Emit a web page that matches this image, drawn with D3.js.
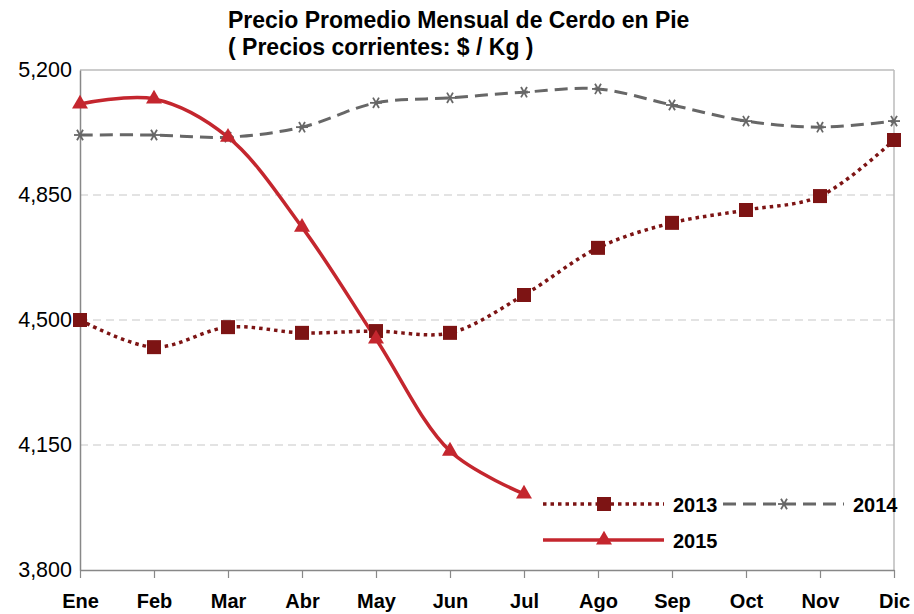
<!DOCTYPE html>
<html>
<head>
<meta charset="utf-8">
<script src="https://cdn.jsdelivr.net/npm/d3@7"></script>
<style>
  body { margin: 0; background: #fff; }
  svg { font-family: "Liberation Sans", Arial, sans-serif; }
</style>
</head>
<body>
<svg id="chart" width="914" height="614"></svg>
<script>
const months = ["Ene", "Feb", "Mar", "Abr", "May", "Jun", "Jul", "Ago", "Sep", "Oct", "Nov", "Dic"];
const yTicks = [3800, 4150, 4500, 4850, 5200];
const v2013 = [4500, 4424, 4480, 4464, 4469, 4464, 4570, 4702, 4772, 4808, 4847, 5004];
const v2014 = [5018, 5018, 5012, 5040, 5108, 5122, 5138, 5147, 5102, 5057, 5040, 5057];
const v2015 = [5105, 5119, 5012, 4760, 4447, 4133, 4013];

const svg = d3.select("#chart");
const plotL = 80, plotR = 894, plotT = 70, plotB = 570;

const x = d3.scalePoint().domain(months).range([plotL, plotR]);
const y = d3.scaleLinear().domain([3800, 5200]).range([plotB, plotT]);

// title
svg.append("text")
    .attr("x", 228).attr("y", 28)
    .attr("font-size", 23).attr("font-weight", "bold").attr("fill", "#000")
    .text("Precio Promedio Mensual de Cerdo en Pie");
svg.append("text")
    .attr("x", 228).attr("y", 55)
    .attr("font-size", 23).attr("font-weight", "bold").attr("fill", "#000")
    .text("( Precios corrientes: $ / Kg )");

// gridlines
svg.append("g").selectAll("line")
  .data(yTicks.filter(d => d > 3800 && d < 5200))
  .join("line")
    .attr("x1", plotL).attr("x2", plotR)
    .attr("y1", d => y(d)).attr("y2", d => y(d))
    .attr("stroke", "#c8c8c8").attr("stroke-width", 1.2)
    .attr("stroke-dasharray", "8,5");

// frame top/right
svg.append("line").attr("x1", plotL).attr("x2", plotR).attr("y1", plotT).attr("y2", plotT)
    .attr("stroke", "#bbb").attr("stroke-width", 1.5);
svg.append("line").attr("x1", plotR).attr("x2", plotR).attr("y1", plotT).attr("y2", plotB)
    .attr("stroke", "#bbb").attr("stroke-width", 1.5);

// y axis
const yAxis = svg.append("g")
    .attr("transform", `translate(${plotL},0)`)
    .call(d3.axisLeft(y).tickValues(yTicks).tickSize(0).tickPadding(8).tickFormat(d3.format(",")));
yAxis.select(".domain").attr("stroke", "#888").attr("stroke-width", 1.5);
yAxis.selectAll("text").attr("font-size", 21.5).attr("fill", "#000")
    .attr("font-family", "'Liberation Sans', Arial, sans-serif");

// x axis
const xAxis = svg.append("g")
    .attr("transform", `translate(0,${plotB})`)
    .call(d3.axisBottom(x).tickSizeInner(8).tickSizeOuter(0).tickPadding(16));
xAxis.select(".domain").attr("stroke", "#888").attr("stroke-width", 1.5);
xAxis.selectAll(".tick line").attr("stroke", "#888").attr("stroke-width", 1.2);
xAxis.selectAll("text").attr("font-size", 20).attr("font-weight", "bold").attr("fill", "#000")
    .attr("font-family", "'Liberation Sans', Arial, sans-serif");

const line = d3.line()
    .x((d, i) => x(months[i]))
    .y(d => y(d))
    .curve(d3.curveCatmullRom.alpha(0.5));

const c2013 = "#7d1414", c2014 = "#676767", c2015 = "#c4262e";

svg.append("path").datum(v2014)
    .attr("d", line).attr("fill", "none")
    .attr("stroke", c2014).attr("stroke-width", 3).attr("stroke-dasharray", "13,7");

svg.append("path").datum(v2013)
    .attr("d", line).attr("fill", "none")
    .attr("stroke", c2013).attr("stroke-width", 3.5).attr("stroke-dasharray", "3.5,4");

svg.append("path").datum(v2015)
    .attr("d", line).attr("fill", "none")
    .attr("stroke", c2015).attr("stroke-width", 3.5);

// markers
function star(g, cx, cy, col) {
  const r = 6;
  [0, 60, 120].forEach(a => {
    const rad = a * Math.PI / 180;
    g.append("line")
      .attr("x1", cx - r * Math.cos(rad)).attr("y1", cy - r * Math.sin(rad))
      .attr("x2", cx + r * Math.cos(rad)).attr("y2", cy + r * Math.sin(rad))
      .attr("stroke", col).attr("stroke-width", 1.8);
  });
}
const gm = svg.append("g");
v2014.forEach((d, i) => star(gm, x(months[i]), y(d), c2014));

svg.append("g").selectAll("rect").data(v2013).join("rect")
    .attr("x", (d, i) => x(months[i]) - 7).attr("y", d => y(d) - 7)
    .attr("width", 14).attr("height", 14).attr("fill", c2013);

const tri = d3.symbol().type(d3.symbolTriangle).size(110);
svg.append("g").selectAll("path").data(v2015).join("path")
    .attr("d", tri)
    .attr("transform", (d, i) => `translate(${x(months[i])},${y(d)})`)
    .attr("fill", c2015);

// legend
const lg = svg.append("g");
function legendItem(x0, y0, label, col, dash, width, marker) {
  lg.append("line").attr("x1", x0).attr("x2", x0 + 121).attr("y1", y0).attr("y2", y0)
    .attr("stroke", col).attr("stroke-width", width).attr("stroke-dasharray", dash);
  marker(x0 + 61, y0);
  lg.append("text").attr("x", x0 + 130).attr("y", y0 + 7.5)
    .attr("font-size", 20).attr("font-weight", "bold").attr("fill", "#000")
    .text(label);
}
legendItem(543, 504, "2013", c2013, "3.5,4", 3.5, (cx, cy) =>
  lg.append("rect").attr("x", cx - 7).attr("y", cy - 7).attr("width", 14).attr("height", 14).attr("fill", c2013));
legendItem(723, 504, "2014", c2014, "13,7", 3, (cx, cy) => star(lg, cx, cy, c2014));
legendItem(543, 540, "2015", c2015, null, 3.5, (cx, cy) =>
  lg.append("path").attr("d", tri).attr("transform", `translate(${cx},${cy})`).attr("fill", c2015));
</script>
</body>
</html>
